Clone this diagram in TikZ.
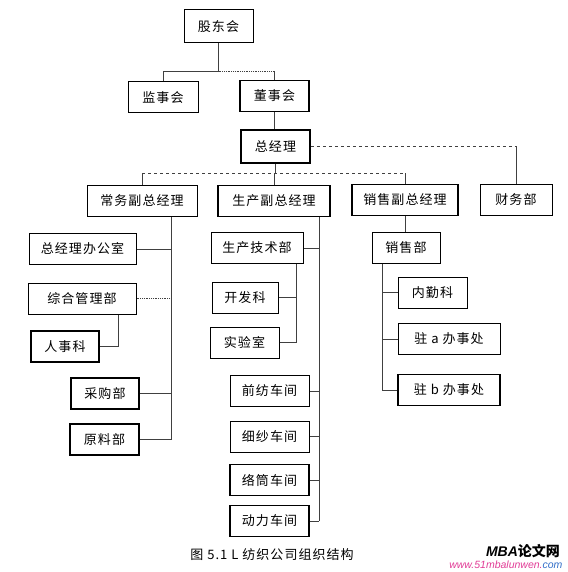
\documentclass[tikz,border=0pt]{standalone}
\usepackage{fontspec}
\setmainfont{Liberation Sans}
\newfontfamily\cjk{Noto Sans CJK SC}
\newfontfamily\cjksp{Noto Sans CJK SC}[LetterSpace=8]
\usetikzlibrary{positioning}
\definecolor{wmpink}{RGB}{225,60,150}
\definecolor{wmblue}{RGB}{50,110,200}

\begin{document}
\begin{tikzpicture}[x=1pt,y=-1pt,
    org/.style={draw,line width=1pt,minimum height=31pt,inner sep=0pt,
        font=\cjksp\fontsize{13}{13}\selectfont},
    orgb/.style={org,line width=1.9pt},
    link/.style={line width=0.8pt,black!75}]
    \useasboundingbox (0,0) rectangle (567,572);

    % top levels
    \node[org,minimum width=69pt,minimum height=33pt] (gdh) at (218.5,26.5) {股东会};
    \node[org,minimum width=70pt] (jsh) at (163,97.5) {监事会};
    \node[orgb,minimum width=69pt] (dsh) at (274.5,96) {董事会};
    \node[orgb,minimum width=69pt,minimum height=33pt] (zjl) at (275.5,146.5) {总经理};

    % vice managers
    \node[org,minimum width=110pt] (cw) at (142,201) {常务副总经理};
    \node[orgb,minimum width=112pt] (sc) at (274,201) {生产副总经理};
    \node[orgb,minimum width=106pt] (xs) at (405,200) {销售副总经理};
    \node[org,minimum width=72pt] (cwb) at (516,200) {财务部};

    % left branch
    \node[org,minimum width=107pt] (bgs) at (82.5,249) {总经理办公室};
    \node[org,minimum width=108pt] (zhgl) at (82,298.5) {综合管理部};
    \node[orgb,minimum width=68pt] (rsk) at (65,346.5) {人事科};
    \node[orgb,minimum width=68pt] (cgb) at (105,393.5) {采购部};
    \node[orgb,minimum width=69pt] (ylb) at (104.5,439.5) {原料部};

    % production branch
    \node[org,minimum width=92pt] (scjs) at (257,248) {生产技术部};
    \node[org,minimum width=66pt] (kfk) at (245,297.5) {开发科};
    \node[org,minimum width=69pt] (sys) at (244.5,342.5) {实验室};
    \node[org,minimum width=79pt] (qf) at (269.5,391) {前纺车间};
    \node[org,minimum width=79pt] (xsj) at (269.5,436.5) {细纱车间};
    \node[orgb,minimum width=79pt] (lt) at (269.5,480) {络筒车间};
    \node[orgb,minimum width=79pt] (dl) at (269.5,521) {动力车间};

    % sales branch
    \node[org,minimum width=68pt] (xsb) at (406,248) {销售部};
    \node[org,minimum width=69pt] (nqk) at (432.5,292.5) {内勤科};
    \node[org,minimum width=102pt] (zha) at (449,339) {驻 a 办事处};
    \node[orgb,minimum width=102pt] (zhb) at (449,390) {驻 b 办事处};

    % connectors, top
    \coordinate (t1) at (0,71);
    \draw[link] (gdh.south) -- (gdh.south |- t1);
    \draw[link] (jsh.north) -- (jsh.north |- t1) -- (gdh.south |- t1);
    \draw[link,densely dotted] (gdh.south |- t1) -- (dsh.north |- t1);
    \draw[link] (dsh.north |- t1) -- (dsh.north);
    \draw[link] (dsh.south) -- (dsh.south |- zjl.north);

    \draw[link,dashed] (zjl.east) -- (cwb.north |- zjl.east);
    \draw[link] (cwb.north |- zjl.east) -- (cwb.north);

    \coordinate (t3) at (0,173);
    \draw[link] (zjl.south) -- (zjl.south |- t3);
    \draw[link,dashed] (cw.north |- t3) -- (xs.north |- t3);
    \foreach \n in {cw,sc,xs}
        \draw[link] (\n.north |- t3) -- (\n.north);

    % left trunk
    \coordinate (cwl) at (171,0);
    \draw[link] (cw.south -| cwl) -- (cwl |- ylb.east);
    \foreach \n in {bgs,cgb,ylb}
        \draw[link] (\n.east) -- (\n.east -| cwl);
    \draw[link,densely dotted] (zhgl.east) -- (zhgl.east -| cwl);
    \coordinate (zhl) at (118,0);
    \draw[link] (zhgl.south -| zhl) |- (rsk.east);

    % production trunk
    \coordinate (scl) at (319,0);
    \draw[link] (sc.south -| scl) -- (scl |- dl.east);
    \foreach \n in {scjs,qf,xsj,lt,dl}
        \draw[link] (\n.east) -- (\n.east -| scl);
    \coordinate (jsl) at (296,0);
    \draw[link] (scjs.south -| jsl) -- (jsl |- sys.east);
    \foreach \n in {kfk,sys}
        \draw[link] (\n.east) -- (\n.east -| jsl);

    % sales trunk
    \draw[link] (xs.south) -- (xs.south |- xsb.north);
    \coordinate (xsl) at (382,0);
    \draw[link] (xsb.south -| xsl) -- (xsl |- zhb.west);
    \foreach \n in {nqk,zha,zhb}
        \draw[link] (\n.west) -- (\n.west -| xsl);

    % caption and mark
    \node[font=\cjksp\fontsize{13}{13}\selectfont] (cap) at (272,555) {图 5.1 L 纺织公司组织结构};
    \node[font=\cjk\bfseries\itshape\fontsize{14}{14}\selectfont] (wm) at (523,551)
        {\fontspec{Liberation Sans}[FakeSlant=0]\bfseries\itshape MBA\cjk\bfseries 论文网};
    \node[font=\fontsize{10.5}{11}\selectfont\itshape,anchor=east] (url) at (566,565)
        {\textcolor{wmpink}{www.51mbalunwen.}\textcolor{wmblue}{com}};
\end{tikzpicture}
\end{document}
